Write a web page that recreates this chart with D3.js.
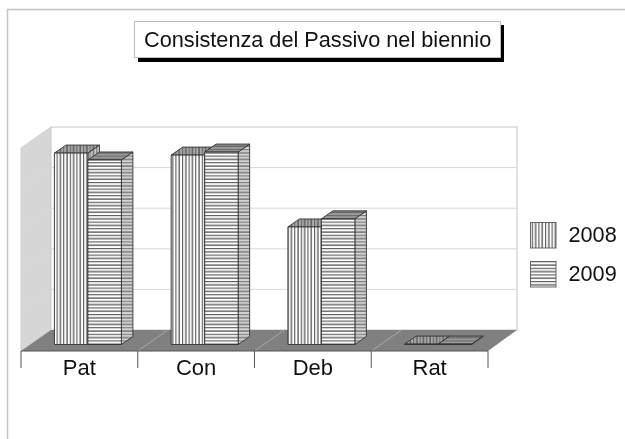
<!DOCTYPE html>
<html><head><meta charset="utf-8">
<script src="https://cdn.jsdelivr.net/npm/d3@7"></script>
<style>html,body{margin:0;padding:0;background:#fff}svg{display:block;filter:blur(0.35px)}text{font-family:"Liberation Sans",Arial,sans-serif;fill:#111}</style>
</head><body><div id="c"></div>
<script>
const titleText = "Consistenza del Passivo nel biennio";
const categories = ["Pat","Con","Deb","Rat"];
const seriesNames = ["2008","2009"];
const values2008 = [94.3,93.3,57.9,0.2];
const values2009 = [90.9,94.8,61.9,0.2];
const gridTicks = [0,20,40,60,80,100];

const W=625,H=439;
const svg=d3.select("#c").append("svg").attr("width",W).attr("height",H);
const defs=svg.append("defs");
function pat(id,vertical,bg,dark,mid){
  const p=defs.append("pattern").attr("id",id).attr("patternUnits","userSpaceOnUse")
    .attr("width",vertical?6.6:8).attr("height",vertical?8:6.6);
  p.append("rect").attr("width",8).attr("height",8).attr("fill",bg);
  [[0.5,dark],[3.8,mid]].forEach(([o,c])=>{
    if(vertical)p.append("rect").attr("x",o).attr("y",0).attr("width",1.1).attr("height",8).attr("fill",c);
    else p.append("rect").attr("x",0).attr("y",o).attr("width",8).attr("height",1.1).attr("fill",c);
  });
}
pat("vFront",true,"#fff","#333","#555");
pat("hFront",false,"#fff","#333","#555");
pat("vSide",true,"#c8c8c8","#555","#777");
pat("hSide",false,"#d4d4d4","#555","#777");
pat("vTop",true,"#a8a8a8","#444","#666");
pat("hTop",false,"#9a9a9a","#555","#6a6a6a");

// page frame
svg.append("line").attr("x1",7.5).attr("x2",7.5).attr("y1",9.5).attr("y2",H).attr("stroke","#c4c4c4").attr("stroke-width",1.5);
svg.append("line").attr("x1",7).attr("x2",W).attr("y1",9.5).attr("y2",9.5).attr("stroke","#c4c4c4").attr("stroke-width",1.5);

// scales
const x=d3.scaleBand().domain(categories).range([21,488]);
const floorY=351, wallDX=30, wallDY=21;
const yWall=d3.scaleLinear().domain([0,100]).range([floorY-wallDY,127]);
const yBar=d3.scaleLinear().domain([0,100]).range([344.5,141.5]);
const poly=pts=>pts.map(p=>p.join(",")).join(" ");

// walls
const xL=x.range()[0], xR=x.range()[1];
svg.append("polygon").attr("points",poly([[xL,floorY],[xL+wallDX,floorY-wallDY],[xL+wallDX,yWall(100)],[xL,yWall(100)+wallDY]]))
  .attr("fill","#d6d6d6").attr("stroke","#cfcfcf");
svg.append("rect").attr("x",xL+wallDX).attr("y",yWall(100)).attr("width",xR-xL-1).attr("height",yWall(0)-yWall(100))
  .attr("fill","#fff").attr("stroke","#cfcfcf").attr("stroke-width",1.2);
gridTicks.slice(1,-1).forEach(t=>{
  svg.append("polyline").attr("fill","none").attr("stroke","#d8d8d8")
    .attr("points",poly([[xL,yWall(t)+wallDY],[xL+wallDX,yWall(t)],[xR+wallDX-1,yWall(t)]]));
});
// floor
svg.append("polygon").attr("points",poly([[xL,floorY],[xL+wallDX,floorY-wallDY],[xR+wallDX-1,floorY-wallDY],[xR,floorY]])).attr("fill","#808080");
categories.slice(1).forEach(c=>{
  svg.append("line").attr("x1",x(c)).attr("y1",floorY).attr("x2",x(c)+wallDX).attr("y2",floorY-wallDY).attr("stroke","#a8a8a8");
});
// category axis line & ticks
const axis=d3.axisBottom(x).tickSize(0).tickPadding(0);
const gx=svg.append("g").attr("transform",`translate(0,${floorY})`).call(axis);
gx.select(".domain").remove();
gx.selectAll("text").style("font-size","22px").attr("y",24).attr("dy",0);
svg.append("line").attr("x1",xL).attr("x2",xR).attr("y1",floorY).attr("y2",floorY).attr("stroke","#555").attr("stroke-width",1);
categories.concat([null]).forEach(c=>{
  const px=c===null?xR:x(c);
  svg.append("line").attr("x1",px).attr("x2",px).attr("y1",floorY).attr("y2",368).attr("stroke","#555");
});

// bars
const barOffset=33.4, barW=33.5, dDX=11.5, dDY=8;
const series=[{vals:values2008,f:"url(#vFront)",s:"url(#vSide)",t:"url(#vTop)"},
              {vals:values2009,f:"url(#hFront)",s:"url(#hSide)",t:"url(#hTop)"}];
categories.forEach((c,i)=>{
  series.forEach((sr,k)=>{
    const x0=x(c)+barOffset+k*barW, x1=x0+barW, yb=yBar(0), yt=yBar(sr.vals[i]);
    const g=svg.append("g").attr("stroke","#333").attr("stroke-width",0.9).attr("stroke-linejoin","round");
    g.append("polygon").attr("points",poly([[x1,yb],[x1+dDX,yb-dDY],[x1+dDX,yt-dDY],[x1,yt]])).attr("fill",sr.s);
    g.append("polygon").attr("points",poly([[x0,yt],[x0+dDX,yt-dDY],[x1+dDX,yt-dDY],[x1,yt]])).attr("fill",sr.t);
    g.append("rect").attr("x",x0).attr("y",yt).attr("width",barW).attr("height",yb-yt).attr("fill",sr.f);
  });
});

// title
svg.append("rect").attr("x",138).attr("y",25).attr("width",366).attr("height",37).attr("fill","#000");
svg.append("rect").attr("x",134.5).attr("y",21.5).attr("width",366).attr("height",36).attr("fill","#fff").attr("stroke","#bdbdbd");
svg.append("text").attr("x",144).attr("y",46.5).attr("font-size",21.7).text(titleText);

// legend
const ly=d3.scalePoint().domain(seriesNames).range([222,261]);
seriesNames.forEach((n,k)=>{
  svg.append("rect").attr("x",530.5).attr("y",ly(n)+.5).attr("width",25.5).attr("height",25.5)
    .attr("fill",series[k].f).attr("stroke","#666");
  svg.append("text").attr("x",568.5).attr("y",ly(n)+20).attr("font-size",21.7).text(n);
});
</script></body></html>
